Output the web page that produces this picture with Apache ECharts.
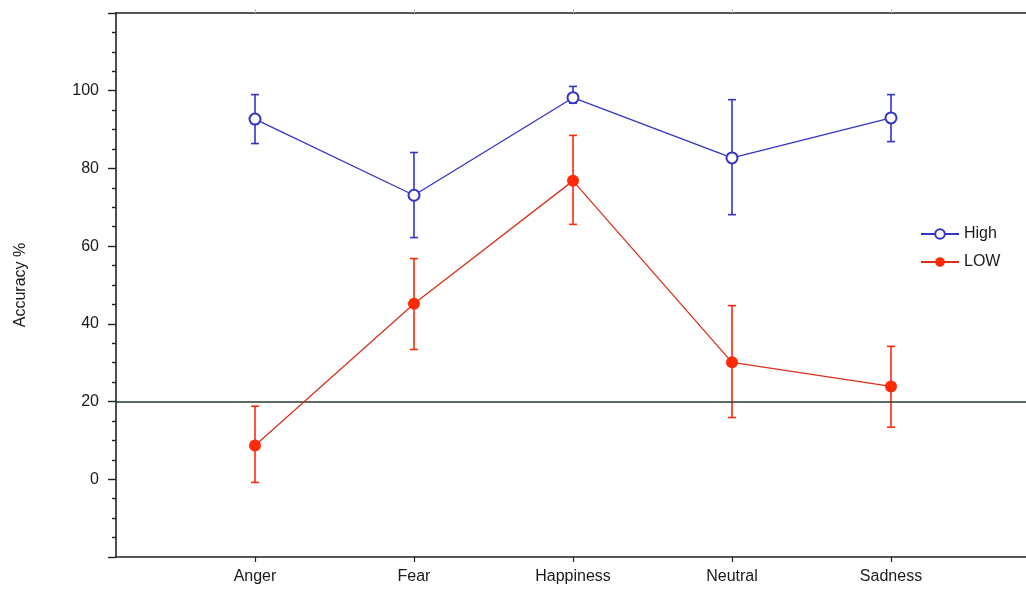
<!DOCTYPE html>
<html>
<head>
<meta charset="utf-8">
<script src="https://cdn.jsdelivr.net/npm/echarts@6/dist/echarts.min.js"></script>
<style>
html,body{margin:0;padding:0;background:#fff;}
#chart{width:1026px;height:592px;}
</style>
</head>
<body>
<div id="chart"></div>
<script>
// ---- data ----
const categories = ['Anger', 'Fear', 'Happiness', 'Neutral', 'Sadness'];
const highMean  = [92.7, 73.1, 98.2, 82.7, 93.0];
const highLower = [86.4, 62.2, 96.8, 68.1, 86.9];
const highUpper = [99.0, 84.1, 101.1, 97.7, 99.0];
const lowMean   = [8.7, 45.2, 76.8, 30.1, 23.9];
const lowLower  = [-0.8, 33.4, 65.6, 15.9, 13.4];
const lowUpper  = [18.8, 56.8, 88.5, 44.7, 34.2];
const chanceLevel = 20;
const yMin = -20, yMax = 120, yStep = 20;

const FONT = '"Liberation Sans", Arial, sans-serif';
const BLUE = '#3434c4';
const RED = '#ff2a08';
const RED_LINE = '#d8321c';
const INK = '#1a1a1a';
const FRAME = { color: '#222', width: 1.6 };

function errData(lo, hi) {
  return categories.map((c, i) => [i, lo[i], hi[i]]);
}
function errRender(color) {
  return function (params, api) {
    const x = api.value(0);
    const p1 = api.coord([x, api.value(1)]);
    const p2 = api.coord([x, api.value(2)]);
    const h = 4;
    const style = { stroke: color, lineWidth: 1.6 };
    return {
      type: 'group',
      children: [
        { type: 'line', shape: { x1: p1[0], y1: p1[1], x2: p2[0], y2: p2[1] }, style },
        { type: 'line', shape: { x1: p1[0] - h, y1: p1[1], x2: p1[0] + h, y2: p1[1] }, style },
        { type: 'line', shape: { x1: p2[0] - h, y1: p2[1], x2: p2[0] + h, y2: p2[1] }, style }
      ]
    };
  };
}

const chart = echarts.init(document.getElementById('chart'), null, { renderer: 'canvas' });
chart.setOption({
  animation: false,
  backgroundColor: '#fff',
  textStyle: { fontFamily: FONT },
  grid: [
    { // frame grid (right side runs off the canvas)
      left: 116, top: 13, width: 950, bottom: 35, show: false, outerBoundsMode: 'none'
    },
    { // data grid
      left: 175.5, top: 13, width: 795, bottom: 35, show: false, outerBoundsMode: 'none'
    }
  ],
  xAxis: [
    {
      gridIndex: 0, type: 'value', min: 0, max: 1, position: 'bottom',
      axisLine: { show: true, onZero: false, lineStyle: FRAME },
      axisTick: { show: false }, axisLabel: { show: false }, splitLine: { show: false }
    },
    {
      gridIndex: 1, type: 'category', data: categories, boundaryGap: true, position: 'bottom',
      axisLine: { show: false, onZero: false },
      axisTick: { show: true, alignWithLabel: true, length: 5, lineStyle: { color: '#222', width: 1.2 } },
      axisLabel: { color: INK, fontSize: 16, margin: 12, fontFamily: FONT },
      splitLine: { show: false }
    },
    {
      gridIndex: 1, type: 'category', data: categories, boundaryGap: true, position: 'top',
      axisLine: { show: false, onZero: false },
      axisTick: { show: true, alignWithLabel: true, length: 4, lineStyle: { color: '#bbb', width: 1 } },
      axisLabel: { show: false },
      splitLine: { show: false }
    },
    {
      gridIndex: 0, type: 'value', min: 0, max: 1, position: 'top',
      axisLine: { show: true, onZero: false, lineStyle: FRAME },
      axisTick: { show: false }, axisLabel: { show: false }, splitLine: { show: false }
    }
  ],
  yAxis: [
    {
      gridIndex: 0, type: 'value', min: yMin, max: yMax, interval: yStep,
      name: 'Accuracy %', nameLocation: 'middle', nameGap: 87, nameRotate: 90,
      nameTextStyle: { color: INK, fontSize: 16, fontFamily: FONT },
      axisLine: { show: true, onZero: false, lineStyle: FRAME },
      axisTick: { show: true, length: 8, lineStyle: { color: '#222', width: 1.4 } },
      minorTick: { show: true, splitNumber: 4, length: 4, lineStyle: { color: '#222', width: 1.4 } },
      axisLabel: {
        color: INK, fontSize: 16, margin: 17, fontFamily: FONT,
        formatter: v => (v <= yMin || v >= yMax) ? '' : String(v)
      },
      splitLine: { show: false }
    },
    {
      gridIndex: 1, type: 'value', min: yMin, max: yMax, interval: yStep, show: false
    }
  ],
  legend: {
    orient: 'vertical', left: 915, top: 221, itemGap: 12,
    itemWidth: 38, itemHeight: 12,
    data: ['High', 'LOW'],
    textStyle: { color: INK, fontSize: 16, fontFamily: FONT }
  },
  series: [
    {
      name: 'chance', type: 'line', xAxisIndex: 0, yAxisIndex: 0, data: [],
      silent: true,
      markLine: {
        silent: true, symbol: ['none', 'none'], label: { show: false },
        lineStyle: { color: '#26382e', width: 1.6, type: 'solid' },
        emphasis: { disabled: true },
        data: [{ yAxis: chanceLevel }]
      }
    },
    {
      name: 'High-err', type: 'custom', xAxisIndex: 1, yAxisIndex: 1, z: 2,
      renderItem: errRender(BLUE), encode: { x: 0, y: [1, 2] },
      data: errData(highLower, highUpper), silent: true
    },
    {
      name: 'LOW-err', type: 'custom', xAxisIndex: 1, yAxisIndex: 1, z: 2,
      renderItem: errRender(RED), encode: { x: 0, y: [1, 2] },
      data: errData(lowLower, lowUpper), silent: true
    },
    {
      name: 'High', type: 'line', xAxisIndex: 1, yAxisIndex: 1, z: 5,
      data: highMean, symbol: 'emptyCircle', symbolSize: 11,
      lineStyle: { color: BLUE, width: 1.3 },
      itemStyle: { color: BLUE, borderColor: BLUE, borderWidth: 1.6 },
      emphasis: { disabled: true }
    },
    {
      name: 'LOW', type: 'line', xAxisIndex: 1, yAxisIndex: 1, z: 5,
      data: lowMean, symbol: 'circle', symbolSize: 12,
      lineStyle: { color: RED_LINE, width: 1.3 },
      itemStyle: { color: RED },
      emphasis: { disabled: true }
    }
  ]
});
</script>
</body>
</html>
